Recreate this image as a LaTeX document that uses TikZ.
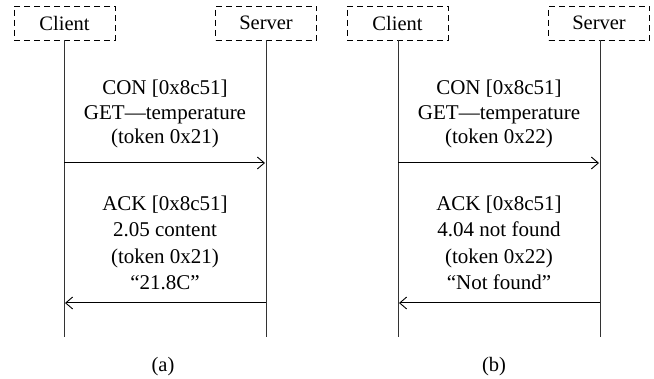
\documentclass[tikz,border=0pt]{standalone}
\usepackage{fontspec}
\setmainfont{Liberation Serif}
\usetikzlibrary{arrows.meta}
\begin{document}
\begin{tikzpicture}[x=1pt,y=-1pt,
  actor/.style={draw, dash pattern=on 6pt off 4pt, line width=0.9pt, minimum width=101pt, minimum height=34pt, inner sep=0pt, font=\fontsize{20.5}{24}\selectfont},
  life/.style={line width=1pt, draw=black!80},
  msg/.style={line width=1pt, -{Straight Barb[length=7pt,width=12pt,line width=0.9pt]}},
  lbl/.style={align=center, inner sep=0pt, font=\fontsize{21}{26.5}\selectfont},
  lblup/.style={lbl, font=\fontsize{21}{24.5}\selectfont},
  captext/.style={font=\fontsize{20.5}{24}\selectfont}]
\useasboundingbox (0,0) rectangle (654,379);
% panel (a)
\node[actor] (ca) at (64.5,23) {Client};
\node[actor] (sa) at (266,23) {Server};
\coordinate (caend) at (64,337);
\coordinate (saend) at (266,337);
\draw[life] (ca.south -| caend) -- (caend);
\draw[life] (sa.south -| saend) -- (saend);
\coordinate (ca1) at (64,163);
\coordinate (sa1) at (265,163);
\coordinate (ca2) at (65,303);
\coordinate (sa2) at (266,303);
\draw[msg] (ca1) -- (sa1);
\draw[msg] (sa2) -- (ca2);
\node[lblup] (ta1) at (165,114) {CON [0x8c51]\\GET---temperature\\(token 0x21)};
\node[lbl] (ta2) at (165,243) {ACK [0x8c51]\\2.05 content\\(token 0x21)\\``21.8C''};
\node[captext] (capa) at (163,367) {(a)};
% panel (b)
\node[actor] (cb) at (397.5,23) {Client};
\node[actor] (sb) at (599,23) {Server};
\coordinate (cbend) at (398,337);
\coordinate (sbend) at (600,337);
\draw[life] (cb.south -| cbend) -- (cbend);
\draw[life] (sb.south -| sbend) -- (sbend);
\coordinate (cb1) at (398,163);
\coordinate (sb1) at (599,163);
\coordinate (cb2) at (399,303);
\coordinate (sb2) at (600,303);
\draw[msg] (cb1) -- (sb1);
\draw[msg] (sb2) -- (cb2);
\node[lblup] (tb1) at (499,114) {CON [0x8c51]\\GET---temperature\\(token 0x22)};
\node[lbl] (tb2) at (499,243) {ACK [0x8c51]\\4.04 not found\\(token 0x22)\\``Not found''};
\node[captext] (capb) at (494,367) {(b)};
\end{tikzpicture}
\end{document}
